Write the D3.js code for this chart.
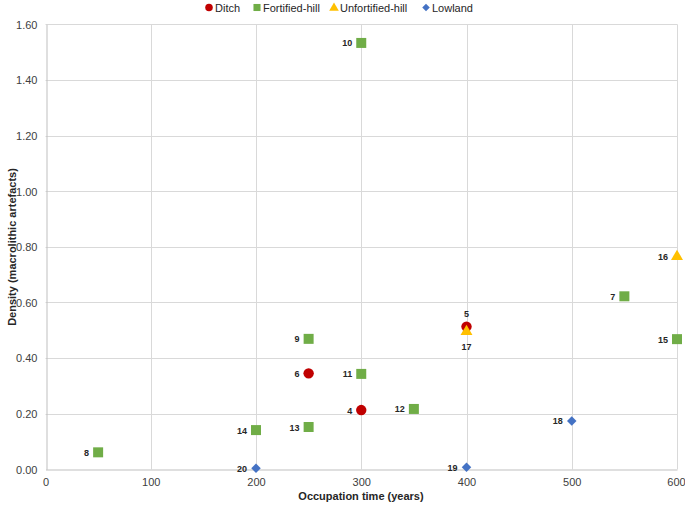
<!DOCTYPE html>
<html><head><meta charset="utf-8">
<script src="https://cdn.jsdelivr.net/npm/d3@7"></script>
<style>body{margin:0;background:#fff;}svg{display:block;font-family:"Liberation Sans",Arial,sans-serif;}</style>
</head><body><svg id="c" width="685" height="505"></svg>
<script>
const seriesNames = ["Ditch","Fortified-hill","Unfortified-hill","Lowland"];
const seriesColors = ["#C00000","#70AD47","#FFC000","#4472C4"];
const ditch = [{id:4,x:300,y:0.213},{id:5,x:400,y:0.513},{id:6,x:250,y:0.345}];
const fortified = [{id:7,x:550,y:0.622},{id:8,x:50,y:0.061},{id:9,x:250,y:0.469},{id:10,x:300,y:1.533},{id:11,x:300,y:0.343},{id:12,x:350,y:0.217},{id:13,x:250,y:0.152},{id:14,x:200,y:0.141},{id:15,x:600,y:0.468}];
const unfortified = [{id:16,x:600,y:0.765},{id:17,x:400,y:0.495}];
const lowland = [{id:18,x:500,y:0.174},{id:19,x:400,y:0.007},{id:20,x:200,y:0.004}];
const xTicks = [0,100,200,300,400,500,600];
const yTicks = [0,0.2,0.4,0.6,0.8,1.0,1.2,1.4,1.6];

const svg = d3.select("#c");
const x = d3.scaleLinear().domain([0,600]).range([45.5,677]);
const y = d3.scaleLinear().domain([0,1.6]).range([469.3,24.3]);

// gridlines
svg.append("g").selectAll("line").data(yTicks.slice(1)).join("line")
  .attr("x1",x(0)).attr("x2",x(600)).attr("y1",d=>Math.round(y(d))+0.5).attr("y2",d=>Math.round(y(d))+0.5)
  .attr("stroke","#d9d9d9").attr("stroke-width",1);
svg.append("g").selectAll("line").data(xTicks.slice(1)).join("line")
  .attr("y1",y(0)).attr("y2",y(1.6)).attr("x1",d=>Math.round(x(d))+0.5).attr("x2",d=>Math.round(x(d))+0.5)
  .attr("stroke","#d9d9d9").attr("stroke-width",1);

// axes
const xAxis = svg.append("g").attr("transform",`translate(0,${Math.round(y(0))+0.5})`)
  .call(d3.axisBottom(x).tickValues(xTicks).tickSize(0).tickPadding(9).tickFormat(d3.format("d")));
const yAxis = svg.append("g").attr("transform",`translate(${Math.round(x(0))+0.5},0)`)
  .call(d3.axisLeft(y).tickValues(yTicks).tickSize(0).tickPadding(9).tickFormat(d3.format(".2f")));
[xAxis,yAxis].forEach(a=>{
  a.select(".domain").attr("stroke","#bfbfbf");
  a.selectAll("text").attr("font-size",11).attr("fill","#404040").attr("font-family","Liberation Sans, Arial, sans-serif");
});
yAxis.selectAll("text").attr("dy","0.35em");
xAxis.selectAll("text").filter(d=>d===600).attr("dx",-1);

// axis titles
svg.append("text").attr("x",361).attr("y",500).attr("text-anchor","middle")
  .attr("font-size",11).attr("font-weight","bold").attr("fill","#262626").text("Occupation time (years)");
svg.append("text").attr("transform","translate(16,247) rotate(-90)").attr("text-anchor","middle")
  .attr("font-size",11).attr("font-weight","bold").attr("fill","#262626").text("Density (macrolithic artefacts)");

const symbols = [d3.symbolCircle,d3.symbolSquare,d3.symbolTriangle,d3.symbolSquare];
const sizes = [85,100,62,45];
const rot = [0,0,0,45];
const allSeries = [ditch,fortified,unfortified,lowland];

allSeries.forEach((data,i)=>{
  const g = svg.append("g");
  g.selectAll("path").data(data).join("path")
    .attr("d",d3.symbol().type(symbols[i]).size(sizes[i]))
    .attr("transform",d=>`translate(${x(d.x)},${y(d.y)}) rotate(${rot[i]})`)
    .attr("fill",seriesColors[i]);
});
// labels (draw after markers)
const labelPos = {5:"above",17:"below"};
allSeries.forEach((data,i)=>{
  svg.append("g").selectAll("text").data(data).join("text")
    .attr("x",d=>labelPos[d.id]?x(d.x):x(d.x)-9)
    .attr("y",d=>labelPos[d.id]==="above"?y(d.y)-10:labelPos[d.id]==="below"?y(d.y)+18:y(d.y)+3.5)
    .attr("text-anchor",d=>labelPos[d.id]?"middle":"end")
    .attr("font-size",9).attr("font-weight","bold").attr("fill","#262626")
    .text(d=>d.id);
});

// legend
const legX = [209,257,334,426];
const legSizes = [45,50,40,28];
const leg = svg.append("g");
seriesNames.forEach((n,i)=>{
  leg.append("path").attr("d",d3.symbol().type(symbols[i]).size(legSizes[i]))
    .attr("transform",`translate(${legX[i]},${i===2?8:7.5}) rotate(${rot[i]})`).attr("fill",seriesColors[i]);
  leg.append("text").attr("x",legX[i]+6).attr("y",11.5).attr("font-size",11).attr("fill","#262626").text(n);
});
</script></body></html>
